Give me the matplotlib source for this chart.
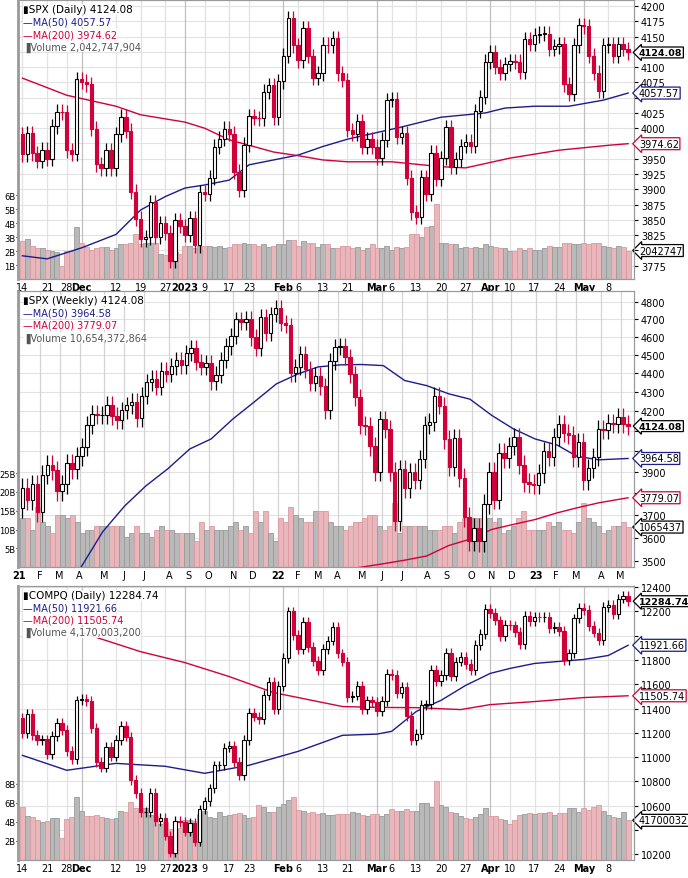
import numpy as np
import pandas as pd
import matplotlib
matplotlib.use("Agg")
import matplotlib.pyplot as plt
import matplotlib.transforms as mtrans

RED = "#d1003a"
NAVY = "#1c1c8c"
PINK = "#e8b6bb"
PINK_EDGE = "#d99aa1"
GRAY = "#b9b9b9"
GRAY_EDGE = "#9a9a9a"

# ---------------- datos ----------------
holidays = ["2022-11-24", "2022-12-26", "2023-01-02", "2023-01-16", "2023-02-20", "2023-04-07"]
daily_dates = pd.bdate_range("2022-11-14", "2023-05-12", freq="C", holidays=holidays)
weekly_dates = pd.date_range("2021-01-08", periods=123, freq="W-FRI")

spx_close = [
    3957, 3992, 3959, 3947, 3965,
    3950, 4003, 4027, 4026,
    3964, 3958, 4080, 4076, 4072,
    3999, 3941, 3934, 3964, 3934,
    3990, 4019, 3996, 3896, 3852,
    3818, 3821, 3879, 3822, 3845,
    3829, 3783, 3849, 3840,
    3825, 3853, 3808, 3895,
    3893, 3919, 3970, 3983, 3999,
    3991, 3929, 3899, 3973,
    4020, 4017, 4016, 4060, 4071,
    4018, 4077, 4119, 4180, 4136,
    4111, 4164, 4118, 4082, 4090,
    4137, 4136, 4148, 4090, 4079,
    3997, 3991, 4012, 3970,
    3982, 3970, 3951, 3981, 4046,
    4048, 3986, 3992, 3919, 3862,
    3855, 3920, 3892, 3960, 3917,
    3951, 4002, 3937, 3949, 3971,
    3978, 3971, 4028, 4051, 4109,
    4125, 4101, 4091, 4105,
    4110, 4109, 4092, 4146, 4138,
    4152, 4155, 4155, 4130, 4134,
    4138, 4072, 4056, 4136, 4169,
    4167, 4119, 4091, 4061, 4136,
    4138, 4119, 4138, 4130, 4124.08,
]
spx_vol = [
    2.7, 2.9, 2.4, 2.2, 2.2,
    2.1, 2.0, 1.9, 0.9,
    2.0, 2.0, 3.7, 2.6, 2.3,
    2.1, 2.2, 2.3, 2.3, 2.1,
    2.2, 2.5, 2.5, 2.6, 3.2,
    2.5, 2.6, 2.6, 2.6, 1.8,
    1.7, 1.8, 1.9, 1.8,
    2.4, 2.4, 2.2, 2.4,
    2.4, 2.4, 2.3, 2.4, 2.2,
    2.3, 2.5, 2.5, 2.6,
    2.5, 2.5, 2.4, 2.5, 2.3,
    2.4, 2.5, 2.5, 2.8, 2.8,
    2.4, 2.7, 2.6, 2.6, 2.3,
    2.5, 2.5, 2.2, 2.2, 2.4,
    2.4, 2.2, 2.3, 2.1,
    2.2, 2.5, 2.2, 2.2, 2.4,
    2.1, 2.3, 2.2, 2.3, 3.2,
    3.2, 3.0, 3.7, 3.8, 5.4,
    2.6, 2.6, 2.5, 2.5, 2.2,
    2.3, 2.2, 2.3, 2.2, 2.5,
    2.4, 2.3, 2.2, 2.2,
    2.0, 2.0, 2.2, 2.1, 2.2,
    2.1, 2.1, 2.2, 2.4, 2.3,
    2.3, 2.6, 2.6, 2.5, 2.5,
    2.6, 2.5, 2.6, 2.6, 2.4,
    2.3, 2.2, 2.4, 2.3, 2.04,
]
spx_ma50 = [("2022-11-14", 3791), ("2022-11-21", 3786), ("2022-12-01", 3804), ("2022-12-12", 3826),
            ("2022-12-19", 3866), ("2022-12-27", 3888), ("2023-01-03", 3902), ("2023-01-09", 3907),
            ("2023-01-17", 3915), ("2023-01-23", 3940), ("2023-02-06", 3956), ("2023-02-13", 3970),
            ("2023-02-21", 3982), ("2023-03-08", 4002), ("2023-03-20", 4018), ("2023-03-31", 4025),
            ("2023-04-06", 4033), ("2023-04-17", 4036), ("2023-04-26", 4036), ("2023-05-05", 4046),
            ("2023-05-12", 4057.57)]
spx_ma200 = [("2022-11-14", 4082), ("2022-11-28", 4054), ("2022-12-12", 4036), ("2022-12-19", 4022),
             ("2023-01-03", 4010), ("2023-01-09", 4000), ("2023-01-17", 3981), ("2023-01-30", 3961),
             ("2023-02-06", 3955), ("2023-02-13", 3948), ("2023-02-21", 3945), ("2023-03-06", 3945),
             ("2023-03-20", 3937), ("2023-03-27", 3935), ("2023-04-10", 3951), ("2023-04-24", 3964),
             ("2023-05-08", 3972), ("2023-05-12", 3974.62)]

wk_close = [
    3825, 3768, 3841, 3714, 3887, 3934, 3907, 3811, 3842, 3943, 3913, 3975,
    4020, 4129, 4185, 4180, 4181, 4233, 4174, 4156, 4204, 4230, 4247, 4166, 4281,
    4352, 4370, 4327, 4412, 4395, 4437, 4468, 4442, 4509, 4535, 4459, 4433, 4455,
    4357, 4391, 4471, 4545, 4605, 4697, 4683, 4698, 4595, 4538, 4712, 4621, 4726, 4766,
    4677, 4663, 4398, 4432, 4501, 4419, 4349, 4385, 4329, 4204, 4463, 4543,
    4546, 4488, 4393, 4272, 4132, 4123, 4023, 3901, 4158, 4109, 3901, 3675, 3912,
    3825, 3899, 3863, 3962, 4130, 4145, 4280, 4228, 4058,
    3924, 4067, 3873, 3693, 3586, 3640, 3583, 3752, 3901, 3771, 3993, 3965, 4026,
    4072, 3934, 3852, 3845, 3840,
    3895, 3999, 3973, 4071, 4136, 4090, 4079, 3970, 4046, 3862, 3917, 3971, 4109,
    4105, 4138, 4134, 4169, 4136, 4124.08,
]
wk_vol = [
    13, 13, 10, 16, 12, 11, 9, 14, 14, 13, 14, 12,
    9, 10, 10, 11, 11, 11, 11, 11, 11, 8, 9, 11, 9,
    9, 8, 10, 11, 10, 10, 9, 9, 9, 9, 7, 12, 10,
    11, 10, 10, 10, 11, 12, 10, 11, 9, 15, 12, 15, 9, 7,
    13, 12, 16, 14, 13, 12, 12, 15, 15, 15, 12, 11,
    11, 10, 11, 12, 12, 13, 14, 14, 11, 10, 11, 17, 9,
    11, 11, 11, 11, 11, 10, 10, 10, 11,
    11, 9, 12, 13, 12, 13, 13, 13, 13, 12, 13, 9, 10,
    11, 13, 15, 10, 10,
    10, 10, 12, 11, 12, 10, 10, 9, 12, 17, 13, 12, 11,
    9, 10, 11, 11, 12, 10.65,
]
wk_ma50 = [("2021-04-01", 3474), ("2021-05-01", 3625), ("2021-06-01", 3741), ("2021-07-01", 3834),
           ("2021-08-01", 3915), ("2021-09-01", 4011), ("2021-10-01", 4060), ("2021-11-01", 4161),
           ("2021-12-01", 4248), ("2022-01-01", 4342), ("2022-02-01", 4396), ("2022-03-01", 4433),
           ("2022-04-01", 4444), ("2022-05-01", 4446), ("2022-06-01", 4440), ("2022-07-01", 4360),
           ("2022-08-01", 4333), ("2022-09-01", 4290), ("2022-10-01", 4262), ("2022-11-01", 4178),
           ("2022-12-01", 4111), ("2023-01-01", 4060), ("2023-02-01", 4030), ("2023-03-01", 3975),
           ("2023-04-01", 3958), ("2023-05-12", 3964.58)]
wk_ma200 = [("2022-04-22", 3468), ("2022-06-01", 3487), ("2022-07-01", 3502), ("2022-08-01", 3520),
            ("2022-09-01", 3565), ("2022-10-01", 3593), ("2022-11-01", 3636), ("2022-12-01", 3658),
            ("2023-01-01", 3680), ("2023-02-01", 3710), ("2023-03-01", 3733), ("2023-04-01", 3756),
            ("2023-05-12", 3779.07)]

comp_close = [
    11196, 11359, 11183, 11144, 11146,
    11024, 11174, 11285, 11226,
    11049, 10983, 11468, 11482, 11461,
    11240, 10959, 10914, 11082, 11005,
    11144, 11256, 11170, 10811, 10705,
    10546, 10548, 10709, 10477, 10498,
    10354, 10214, 10478, 10466,
    10387, 10459, 10305, 10569,
    10636, 10743, 10932, 10932, 11079,
    11096, 10958, 10852, 11140,
    11365, 11334, 11313, 11512, 11622,
    11394, 11585, 11816, 12201, 12007,
    11888, 12114, 11910, 11790, 11718,
    11892, 11960, 12070, 11855, 11787,
    11492, 11507, 11590, 11395,
    11467, 11456, 11380, 11462, 11689,
    11675, 11530, 11576, 11338, 11138,
    11189, 11428, 11434, 11717, 11630,
    11675, 11860, 11670, 11787, 11824,
    11768, 11716, 11926, 12013, 12222,
    12189, 12126, 11996, 12088,
    12085, 12032, 11929, 12167, 12124,
    12158, 12154, 12157, 12060, 12072,
    12037, 11799, 11854, 12143, 12227,
    12213, 12081, 12026, 11966, 12236,
    12256, 12180, 12306, 12329, 12284.74,
]
comp_vol = [
    5.6, 4.6, 4.5, 4.2, 4.0,
    4.1, 4.4, 4.4, 2.3,
    4.3, 4.5, 6.6, 5.2, 4.6,
    4.6, 4.7, 4.5, 4.4, 4.3,
    4.4, 5.1, 5.0, 6.1, 5.5,
    5.5, 5.5, 4.7, 4.6, 3.8,
    4.0, 3.3, 3.4, 3.4,
    4.2, 4.2, 4.1, 4.8,
    5.1, 4.5, 4.4, 5.0, 4.6,
    4.7, 4.8, 4.9, 4.7,
    4.4, 4.5, 5.8, 5.6, 5.0,
    5.0, 5.6, 5.9, 6.3, 6.6,
    5.3, 5.2, 4.9, 5.0, 4.8,
    4.9, 4.7, 4.7, 4.8, 4.8,
    4.8, 5.0, 4.9, 4.7,
    4.6, 4.8, 4.8, 4.6, 4.8,
    5.4, 5.2, 5.2, 5.4, 5.1,
    5.1, 6.0, 6.0, 5.6, 8.3,
    5.8, 5.6, 5.0, 4.9, 4.6,
    4.4, 4.3, 4.5, 4.8, 5.5,
    4.6, 4.6, 4.3, 4.2,
    3.8, 4.2, 4.7, 4.8, 4.9,
    4.8, 4.9, 4.9, 5.0, 4.7,
    4.9, 4.9, 5.5, 5.5, 5.0,
    5.5, 5.3, 5.6, 5.8, 5.2,
    4.7, 4.5, 4.4, 5.0, 4.17,
]
comp_ma50 = [("2022-11-14", 11015), ("2022-11-28", 10892), ("2022-12-12", 10949), ("2022-12-27", 10925),
             ("2023-01-09", 10867), ("2023-01-23", 10933), ("2023-02-06", 11048), ("2023-02-17", 11180),
             ("2023-03-01", 11190), ("2023-03-06", 11213), ("2023-03-13", 11377), ("2023-03-20", 11468),
             ("2023-03-27", 11591), ("2023-04-03", 11690), ("2023-04-10", 11731), ("2023-04-17", 11772),
             ("2023-04-24", 11789), ("2023-05-01", 11805), ("2023-05-08", 11838), ("2023-05-12", 11921.66)]
comp_ma200 = [("2022-12-01", 12026), ("2022-12-19", 11869), ("2023-01-03", 11779), ("2023-01-17", 11664),
              ("2023-01-30", 11532), ("2023-02-06", 11491), ("2023-02-17", 11417), ("2023-03-01", 11410),
              ("2023-03-13", 11408), ("2023-03-24", 11392), ("2023-04-03", 11433), ("2023-04-17", 11458),
              ("2023-05-01", 11491), ("2023-05-12", 11505.74)]

MONTH_LETTER = "JFMAMJJASOND"
MONTH_NAME = ["Jan", "Feb", "Mar", "Apr", "May", "Jun", "Jul", "Aug", "Sep", "Oct", "Nov", "Dec"]


def daily_ticks(dates):
    pos, lab, bold = [], [], []
    months = [i for i in range(1, len(dates)) if dates[i].month != dates[i - 1].month]
    for i in months:
        d = dates[i]
        pos.append(i)
        lab.append(str(d.year) if d.month == 1 else MONTH_NAME[d.month - 1])
        bold.append(True)
    for i in range(len(dates)):
        first = i == 0 or dates[i].isocalendar()[1] != dates[i - 1].isocalendar()[1]
        if first and all(abs(i - m) > 2 for m in months):
            pos.append(i)
            lab.append(str(dates[i].day))
            bold.append(False)
    return pos, lab, bold, months


def weekly_ticks(dates):
    pos, lab, bold = [-0.6], ["21"], [True]
    for i in range(1, len(dates)):
        d = dates[i]
        if d.month != dates[i - 1].month:
            pos.append(i - 0.5)
            if d.month == 1:
                lab.append(str(d.year)[2:])
                bold.append(True)
            else:
                lab.append(MONTH_LETTER[d.month - 1])
                bold.append(False)
    return pos, lab, bold


def panel(rect, dates, close, first_open, wick, vol, vmax, vticks, ylim, yticks, log,
          ma50, ma200, title, ma_vals, vol_text, vol_label, weekly=False):
    n = len(close)
    x = np.arange(n)
    close = np.array(close, float)
    opens = np.concatenate([[first_open], close[:-1]])
    up = close >= opens

    axv = fig.add_axes(rect)
    axp = axv.twinx()
    axv.set_xlim(-0.9, n + 0.2)
    axv.set_ylim(0, vmax)
    if log:
        axp.set_yscale("log")
    axp.set_ylim(*ylim)

    # rejilla
    blend = mtrans.blended_transform_factory(axv.transAxes, axp.transData)
    for t in yticks:
        axv.plot([0, 1], [t, t], transform=blend, color="#e2e2e2", lw=0.8, zorder=0)
    if weekly:
        tp, tl, tb = weekly_ticks(dates)
        for p in tp:
            axv.axvline(p, color="#d4d4d4", lw=0.9, zorder=0)
    else:
        tp, tl, tb, months = daily_ticks(dates)
        for p in tp:
            axv.axvline(p, color="#c0c0c0" if p in months else "#e2e2e2", lw=0.9, zorder=0)

    # volumen
    vcol = [GRAY if u else PINK for u in up]
    vedge = [GRAY_EDGE if u else PINK_EDGE for u in up]
    axv.bar(x, vol, width=1.0, color=vcol, edgecolor=vedge, linewidth=0.6, zorder=1)
    axv.set_yticks(vticks)
    axv.set_yticklabels([f"{v}B" for v in vticks], fontsize=6)

    # velas
    body_lo = np.minimum(opens, close)
    body_hi = np.maximum(opens, close)
    ecol = ["black" if u else RED for u in up]
    axp.vlines(x, body_lo - wick, body_hi + wick, colors=ecol, lw=0.9, zorder=3)
    h = np.maximum(body_hi - body_lo, (ylim[1] - ylim[0]) * 0.002)
    axp.bar(x, h, bottom=body_lo, width=0.7, color=["white" if u else RED for u in up],
            edgecolor=ecol, linewidth=0.8, zorder=4)

    # medias móviles
    for pts, col in ((ma50, NAVY), (ma200, RED)):
        d = pd.to_datetime([p[0] for p in pts])
        xi = np.interp(d.values.astype("int64"), dates.values.astype("int64"), x)
        axp.plot(xi, [p[1] for p in pts], color=col, lw=1.0, zorder=2)

    # etiquetas de precio, ocultando las que quedan tapadas por los recuadros
    box_px = [axp.transData.transform((0, v))[1] for v in (close[-1], ma_vals[0], ma_vals[1])]
    box_px.append(axv.transData.transform((0, vol[-1]))[1])
    axp.set_yticks(yticks)
    labels = []
    for t in yticks:
        py = axp.transData.transform((0, t))[1]
        labels.append("" if any(abs(py - b) < 10 for b in box_px) else str(t))
    axp.set_yticklabels(labels, fontsize=7)
    axp.yaxis.set_minor_locator(plt.NullLocator())
    axp.tick_params(axis="y", length=3, pad=2)
    axv.tick_params(axis="y", length=1.5, pad=0.3)

    axv.set_xticks(tp)
    axv.set_xticklabels(tl, fontsize=7)
    for lbl, b in zip(axv.get_xticklabels(), tb):
        if b:
            lbl.set_fontweight("bold")
    axv.tick_params(axis="x", length=0, pad=2)

    for ax in (axv, axp):
        for s in ax.spines.values():
            s.set_color("#9a9a9a")
    axv.spines["left"].set_linewidth(2)

    # recuadros de valor a la derecha
    bl = mtrans.blended_transform_factory(axp.transAxes, axp.transData)
    for val, txt, col, fw in ((close[-1], f"{close[-1]:.2f}", "black", "bold"),
                              (ma_vals[0], f"{ma_vals[0]:.2f}", NAVY, "normal"),
                              (ma_vals[1], f"{ma_vals[1]:.2f}", RED, "normal")):
        axp.text(1.008, val, txt, transform=bl, fontsize=7 if fw == "normal" else 6.8,
                 color="black", fontweight=fw,
                 va="center", ha="left", zorder=10, clip_on=False,
                 bbox=dict(boxstyle="larrow,pad=0.1", fc="white", ec=col, lw=0.9))
    blv = mtrans.blended_transform_factory(axv.transAxes, axv.transData)
    axv.text(1.008, vol[-1], vol_label, transform=blv, fontsize=7, va="center", ha="left",
             clip_on=False, zorder=10,
             bbox=dict(boxstyle="larrow,pad=0.1", fc="white", ec="black", lw=0.9))

    # leyenda
    lines = [(title, "black"), (f"\u2014MA(50) {ma_vals[0]:.2f}", NAVY),
             (f"\u2014MA(200) {ma_vals[1]:.2f}", RED), (vol_text, "#555555")]
    for k, (t, c) in enumerate(lines):
        axp.text(0.008, 0.985 - k * 0.045, t, transform=axp.transAxes, fontsize=7.5 if k == 0 else 7,
                 color=c, va="top", ha="left", zorder=11,
                 bbox=dict(fc="white", ec="none", pad=0.3, alpha=0.9))
    return axv, axp


fig = plt.figure(figsize=(6.88, 8.79), dpi=100)
W, H = 688, 879


def rect(top, bottom):
    return [18 / W, 1 - bottom / H, 616 / W, (bottom - top) / H]


panel(rect(1, 280), daily_dates, spx_close, 3990, 12, spx_vol, 20, [1, 2, 3, 4, 5, 6],
      (3753, 4210), list(range(3775, 4201, 25)), False, spx_ma50, spx_ma200,
      "\u25aeSPX (Daily) 4124.08", (4057.57, 3974.62), "\u2590Volume 2,042,747,904", "2042747")
panel(rect(292, 568), weekly_dates, wk_close, 3730, 45, wk_vol, 73.6, [5, 10, 15, 20, 25],
      (3473, 4863), list(range(3500, 4801, 100)), True, wk_ma50, wk_ma200,
      "\u25aeSPX (Weekly) 4124.08", (3964.58, 3779.07), "\u2590Volume 10,654,372,864", "1065437",
      weekly=True)
panel(rect(587, 861), daily_dates, comp_close, 11323, 40, comp_vol, 28.8, [2, 4, 6, 8],
      (10153, 12410), list(range(10200, 12401, 200)), False, comp_ma50, comp_ma200,
      "\u25aeCOMPQ (Daily) 12284.74", (11921.66, 11505.74), "\u2590Volume 4,170,003,200", "41700032")

fig.savefig("out.png", dpi=100)
